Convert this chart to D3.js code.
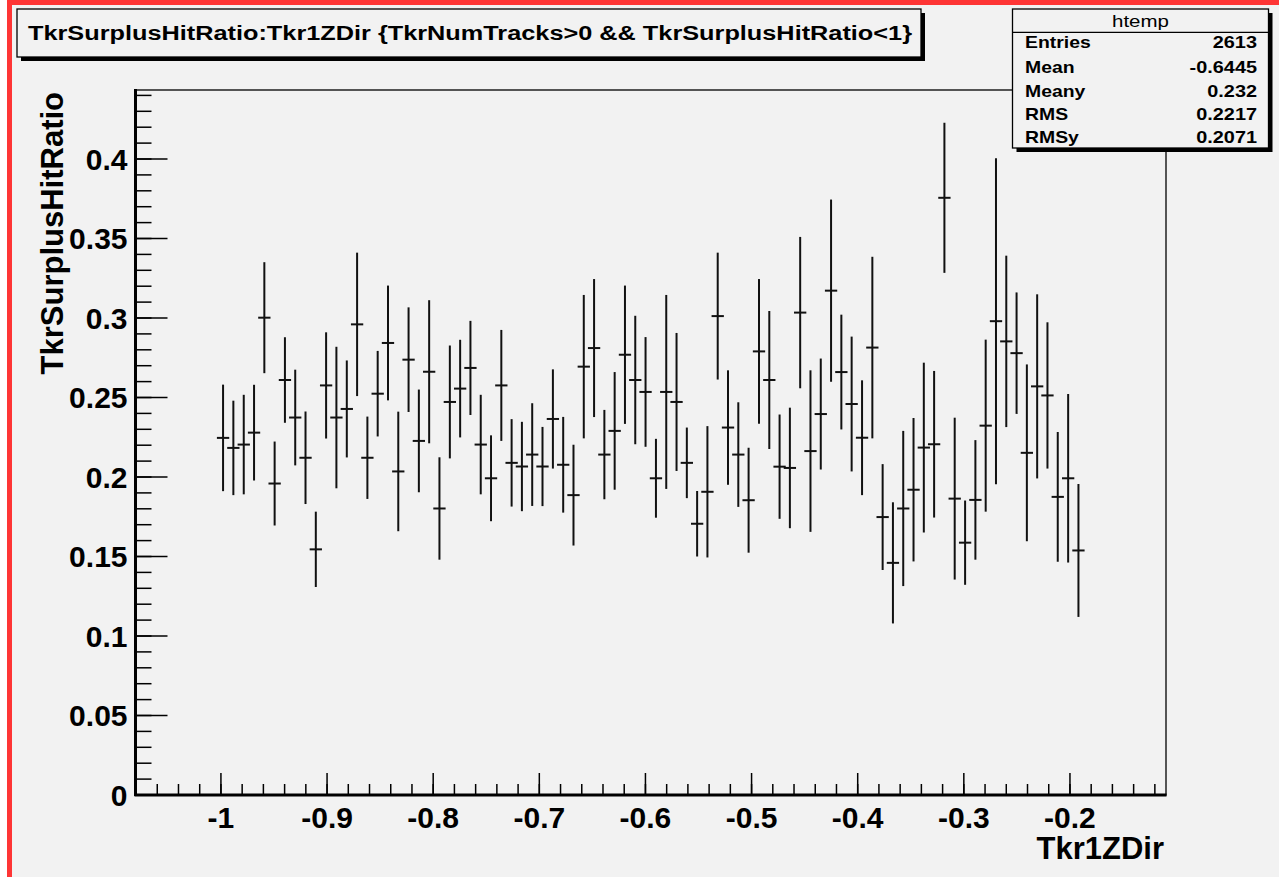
<!DOCTYPE html>
<html>
<head>
<meta charset="utf-8">
<script src="https://cdn.jsdelivr.net/npm/d3@7"></script>
<style>
  html, body { margin: 0; padding: 0; background: #ffffff; }
  svg { display: block; }
  text { font-family: "Liberation Sans", Arial, Helvetica, sans-serif; }
</style>
</head>
<body>
<svg id="chart" width="1279" height="877"></svg>
<script>
// ---------------- data ----------------
const titleText = "TkrSurplusHitRatio:Tkr1ZDir {TkrNumTracks>0 && TkrSurplusHitRatio<1}";
const xAxisTitle = "Tkr1ZDir";
const yAxisTitle = "TkrSurplusHitRatio";
const statsName = "htemp";
const statsLabels = ["Entries", "Mean", "Meany", "RMS", "RMSy"];
const statsValues = ["2613", "-0.6445", "0.232", "0.2217", "0.2071"];

const xDomain = [-1.0805, -0.1095];
const yDomain = [0, 0.4434];
const binWidth = 0.00971;

const xMajorTicks = [-1, -0.9, -0.8, -0.7, -0.6, -0.5, -0.4, -0.3, -0.2];
const xTickLabels = ["-1", "-0.9", "-0.8", "-0.7", "-0.6", "-0.5", "-0.4", "-0.3", "-0.2"];
const yMajorTicks = [0, 0.05, 0.1, 0.15, 0.2, 0.25, 0.3, 0.35, 0.4];
const yTickLabels = ["0", "0.05", "0.1", "0.15", "0.2", "0.25", "0.3", "0.35", "0.4"];

// bin centres (Tkr1ZDir)
const xCenters = [
  -0.9980, -0.9883, -0.9785, -0.9688, -0.9591, -0.9494, -0.9397, -0.9300, -0.9203, -0.9106,
  -0.9009, -0.8912, -0.8814, -0.8717, -0.8620, -0.8523, -0.8426, -0.8329, -0.8232, -0.8135,
  -0.8038, -0.7941, -0.7843, -0.7746, -0.7649, -0.7552, -0.7455, -0.7358, -0.7261, -0.7164,
  -0.7067, -0.6970, -0.6872, -0.6775, -0.6678, -0.6581, -0.6484, -0.6387, -0.6290, -0.6193,
  -0.6096, -0.5999, -0.5901, -0.5804, -0.5707, -0.5610, -0.5513, -0.5416, -0.5319, -0.5222,
  -0.5125, -0.5028, -0.4930, -0.4833, -0.4736, -0.4639, -0.4542, -0.4445, -0.4348, -0.4251,
  -0.4154, -0.4057, -0.3959, -0.3862, -0.3765, -0.3668, -0.3571, -0.3474, -0.3377, -0.3280,
  -0.3183, -0.3086, -0.2988, -0.2891, -0.2794, -0.2697, -0.2600, -0.2503, -0.2406, -0.2309,
  -0.2212, -0.2115, -0.2017, -0.1920
];

// profile means (TkrSurplusHitRatio)
const yMeans = [
  0.2246, 0.2183, 0.2204, 0.2279, 0.3002, 0.1959, 0.2610, 0.2374, 0.2121, 0.1545,
  0.2576, 0.2374, 0.2428, 0.2960, 0.2121, 0.2524, 0.2843, 0.2035, 0.2738, 0.2227,
  0.2662, 0.1802, 0.2472, 0.2556, 0.2686, 0.2204, 0.1992, 0.2576, 0.2089, 0.2066,
  0.2141, 0.2066, 0.2365, 0.2077, 0.1886, 0.2694, 0.2811, 0.2141, 0.2290, 0.2769,
  0.2610, 0.2535, 0.1992, 0.2535, 0.2472, 0.2089, 0.1706, 0.1907, 0.3012, 0.2311,
  0.2141, 0.1854, 0.2790, 0.2610, 0.2065, 0.2057, 0.3034, 0.2163, 0.2396, 0.3172,
  0.2660, 0.2459, 0.2247, 0.2814, 0.1748, 0.1460, 0.1802, 0.1920, 0.2185, 0.2206,
  0.3756, 0.1864, 0.1587, 0.1856, 0.2323, 0.2980, 0.2853, 0.2779, 0.2152, 0.2570,
  0.2513, 0.1875, 0.1992, 0.1538
];

// errors on the mean
const yErrors = [
  0.0335, 0.0297, 0.0313, 0.0301, 0.0349, 0.0264, 0.0269, 0.0301, 0.0291, 0.0237,
  0.0334, 0.0445, 0.0305, 0.0451, 0.0259, 0.0269, 0.0361, 0.0376, 0.0329, 0.0323,
  0.0450, 0.0322, 0.0355, 0.0307, 0.0296, 0.0313, 0.0270, 0.0349, 0.0275, 0.0281,
  0.0323, 0.0249, 0.0312, 0.0301, 0.0317, 0.0451, 0.0434, 0.0281, 0.0370, 0.0435,
  0.0404, 0.0345, 0.0248, 0.0610, 0.0434, 0.0222, 0.0206, 0.0413, 0.0399, 0.0360,
  0.0329, 0.0330, 0.0455, 0.0434, 0.0328, 0.0379, 0.0476, 0.0508, 0.0349, 0.0573,
  0.0361, 0.0424, 0.0361, 0.0571, 0.0333, 0.0381, 0.0488, 0.0451, 0.0534, 0.0461,
  0.0472, 0.0509, 0.0265, 0.0376, 0.0541, 0.1025, 0.0539, 0.0382, 0.0556, 0.0579,
  0.0460, 0.0408, 0.0530, 0.0418
];

// ---------------- drawing ----------------
const W = 1279, H = 877;
const plot = { left: 135.5, right: 1166, top: 90, bottom: 795 };
const svg = d3.select("#chart");

// canvas background and window border
svg.append("rect").attr("x", 0).attr("y", 0).attr("width", W).attr("height", H).attr("fill", "#f2f2f2");
svg.append("rect").attr("x", 0).attr("y", 0).attr("width", 7).attr("height", H).attr("fill", "#ffffff");
svg.append("rect").attr("x", 7).attr("y", 0).attr("width", 5).attr("height", H).attr("fill", "#fe3535");
svg.append("rect").attr("x", 7).attr("y", 0).attr("width", W - 7).attr("height", 5).attr("fill", "#fe3535");

const x = d3.scaleLinear().domain(xDomain).range([plot.left, plot.right]);
const y = d3.scaleLinear().domain(yDomain).range([plot.bottom, plot.top]);

// frame
svg.append("rect")
  .attr("x", plot.left).attr("y", plot.top)
  .attr("width", plot.right - plot.left).attr("height", plot.bottom - plot.top)
  .attr("fill", "none").attr("stroke", "#000").attr("stroke-width", 1.3);

// Y axis (left)
const yAxisG = svg.append("g").attr("transform", `translate(${plot.left},0)`);
const yMinor = d3.range(0, 45).map(i => i * 0.01).filter(v => v <= yDomain[1]);
yAxisG.selectAll("line.minor").data(yMinor).join("line")
  .attr("x1", 0).attr("x2", 16)
  .attr("y1", d => y(d)).attr("y2", d => y(d))
  .attr("stroke", "#000").attr("stroke-width", 1.5);
yAxisG.selectAll("line.major").data(yMajorTicks).join("line")
  .attr("x1", 0).attr("x2", 32)
  .attr("y1", d => y(d)).attr("y2", d => y(d))
  .attr("stroke", "#000").attr("stroke-width", 1.5);
yAxisG.append("line").attr("x1", 0).attr("x2", 0).attr("y1", plot.top - 1).attr("y2", plot.bottom + 1)
  .attr("stroke", "#000").attr("stroke-width", 3);
yAxisG.selectAll("text.tl").data(yMajorTicks).join("text")
  .attr("x", -8).attr("y", d => y(d)).attr("dy", "0.36em")
  .attr("text-anchor", "end").attr("font-size", 30).attr("font-weight", "bold").attr("fill", "#000")
  .text((d, i) => yTickLabels[i]);

// X axis (bottom)
const xAxisG = svg.append("g").attr("transform", `translate(0,${plot.bottom})`);
const xMinor = d3.range(-54, -5).map(i => i * 0.02).filter(v => v > xDomain[0] && v < xDomain[1]);
xAxisG.selectAll("line.minor").data(xMinor).join("line")
  .attr("x1", d => x(d)).attr("x2", d => x(d))
  .attr("y1", 0).attr("y2", -11)
  .attr("stroke", "#000").attr("stroke-width", 1.5);
xAxisG.selectAll("line.major").data(xMajorTicks).join("line")
  .attr("x1", d => x(d)).attr("x2", d => x(d))
  .attr("y1", 0).attr("y2", -22)
  .attr("stroke", "#000").attr("stroke-width", 1.5);
xAxisG.append("line").attr("x1", plot.left - 1).attr("x2", plot.right + 0.5).attr("y1", 0).attr("y2", 0)
  .attr("stroke", "#000").attr("stroke-width", 3);
xAxisG.selectAll("text.tl").data(xMajorTicks).join("text")
  .attr("x", d => x(d)).attr("y", 33)
  .attr("text-anchor", "middle").attr("font-size", 30).attr("font-weight", "bold").attr("fill", "#000")
  .text((d, i) => xTickLabels[i]);

// axis titles
svg.append("text").attr("x", 1164).attr("y", 859)
  .attr("text-anchor", "end").attr("font-size", 31).attr("font-weight", "bold").attr("fill", "#000")
  .text(xAxisTitle);
svg.append("text").attr("transform", "translate(63,92) rotate(-90)")
  .attr("text-anchor", "end").attr("font-size", 31).attr("font-weight", "bold").attr("fill", "#000")
  .text(yAxisTitle);

// data points with error bars
const pts = xCenters.map((xv, i) => ({ x: xv, y: yMeans[i], e: yErrors[i] }));
const pg = svg.append("g").attr("stroke", "#111").attr("stroke-width", 2);
pg.selectAll("line.ey").data(pts).join("line")
  .attr("x1", d => x(d.x)).attr("x2", d => x(d.x))
  .attr("y1", d => y(d.y - d.e)).attr("y2", d => y(d.y + d.e));
pg.selectAll("line.ex").data(pts).join("line")
  .attr("stroke-linecap", "square")
  .attr("x1", d => x(d.x - binWidth / 2)).attr("x2", d => x(d.x + binWidth / 2))
  .attr("y1", d => y(d.y)).attr("y2", d => y(d.y));

function stretch(sel, sx) {
  const w = sel.node().getComputedTextLength();
  sel.attr("textLength", w * sx).attr("lengthAdjust", "spacingAndGlyphs");
}

// title box
const tb = { x: 17, y: 9, w: 904, h: 48 };
svg.append("rect").attr("x", tb.x + 4).attr("y", tb.y + 4).attr("width", tb.w).attr("height", tb.h).attr("fill", "#000");
svg.append("rect").attr("x", tb.x).attr("y", tb.y).attr("width", tb.w).attr("height", tb.h)
  .attr("fill", "#f2f2f2").attr("stroke", "#000").attr("stroke-width", 1.3);
svg.append("text").attr("x", 28).attr("y", 39.5)
  .attr("font-size", 19.5).attr("font-weight", "bold").attr("fill", "#000")
  .attr("textLength", 884).attr("lengthAdjust", "spacingAndGlyphs")
  .text(titleText);

// stats box
const sb = { x: 1012.5, y: 9, w: 256, h: 139 };
svg.append("rect").attr("x", sb.x + 4).attr("y", sb.y + 4).attr("width", sb.w).attr("height", sb.h).attr("fill", "#000");
svg.append("rect").attr("x", sb.x).attr("y", sb.y).attr("width", sb.w).attr("height", sb.h)
  .attr("fill", "#f2f2f2").attr("stroke", "#000").attr("stroke-width", 1.3);
svg.append("line").attr("x1", sb.x).attr("x2", sb.x + sb.w).attr("y1", 32.3).attr("y2", 32.3)
  .attr("stroke", "#000").attr("stroke-width", 1.3);
const hdr = svg.append("text").attr("x", sb.x + sb.w / 2).attr("y", 26.5)
  .attr("text-anchor", "middle").attr("font-size", 16.5).attr("fill", "#000").text(statsName);
stretch(hdr, 1.24);
const rowY = [48.3, 72.5, 96.5, 120, 143.3];
statsLabels.forEach((lab, i) => {
  const t = svg.append("text").attr("x", 1025).attr("y", rowY[i])
    .attr("font-size", 16.3).attr("font-weight", "bold").attr("fill", "#000").text(lab);
  stretch(t, 1.19);
  const v = svg.append("text").attr("x", 1257).attr("y", rowY[i]).attr("text-anchor", "end")
    .attr("font-size", 16.3).attr("font-weight", "bold").attr("fill", "#000").text(statsValues[i]);
  stretch(v, 1.22);
});
</script>
</body>
</html>
